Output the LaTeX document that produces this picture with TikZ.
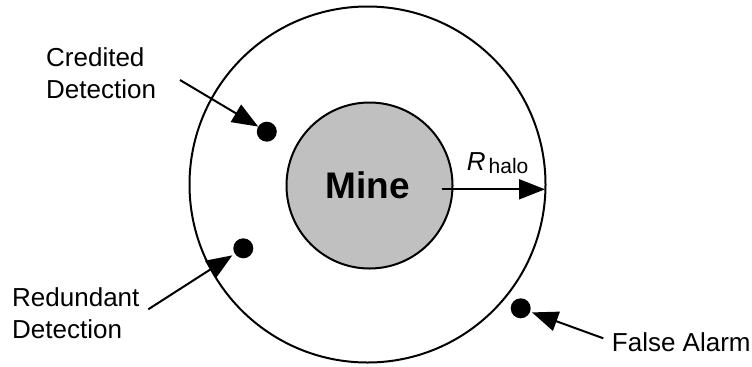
\documentclass[tikz,border=0pt]{standalone}
\usepackage{fontspec}
\setmainfont{Liberation Sans}
\usetikzlibrary{arrows.meta}
\definecolor{minegray}{RGB}{192,192,192}
\begin{document}
\begin{tikzpicture}[x=1bp,y=-1bp,
  ring/.style={circle,draw,line width=2bp,inner sep=0,outer sep=0},
  dot/.style={circle,fill=black,inner sep=0,outer sep=0,minimum size=20bp},
  lbl/.style={font=\fontsize{26bp}{32bp}\selectfont,align=left,inner sep=0,anchor=base west},
  pointer/.style={line width=2bp,-{Triangle[length=26bp,width=20bp]}}]
\useasboundingbox (0,0) rectangle (752,366);
\node[ring,minimum size=356bp] (halo) at (367.5,184.5) {};
\node[ring,fill=minegray,minimum size=166bp] (mine) at (369.5,185.5) {};
\node[anchor=base,inner sep=0,font=\fontsize{37bp}{40bp}\selectfont\bfseries] (minelbl) at (368,198.5) {Mine};
% dots
\node[dot] (cd) at (266.8,131.7) {};
\node[dot] (rd) at (243.3,248.3) {};
\node[dot] (fa) at (520.7,308.3) {};
% labels (base anchor = baseline of last line)
\node[lbl] (cdl) at (46,98.6) {Credited\\Detection};
\node[lbl] (rdl) at (12,338.2) {Redundant\\Detection};
\node[lbl] (fal) at (611.7,351.7) {False Alarm};
\node[anchor=base west,inner sep=0,font=\fontsize{26bp}{30bp}\selectfont] (rlbl) at (466.7,170)
  {\itshape R\upshape\kern3bp\raisebox{-3.3bp}{\fontsize{21bp}{24bp}\selectfont halo}};
% connector ends
\coordinate (cds) at (180,80);
\coordinate (rds) at (148.3,309.3);
\coordinate (fas) at (603.3,338.3);
\coordinate (hs) at (441.7,189.3);
\coordinate (he) at (545,189.3);
\draw[pointer] (cds) -- (cd);
\draw[pointer,shorten >=3bp] (rds) -- (rd);
\draw[pointer,shorten >=2bp] (fas) -- (fa);
\draw[pointer] (hs) -- (he);
\end{tikzpicture}
\end{document}
